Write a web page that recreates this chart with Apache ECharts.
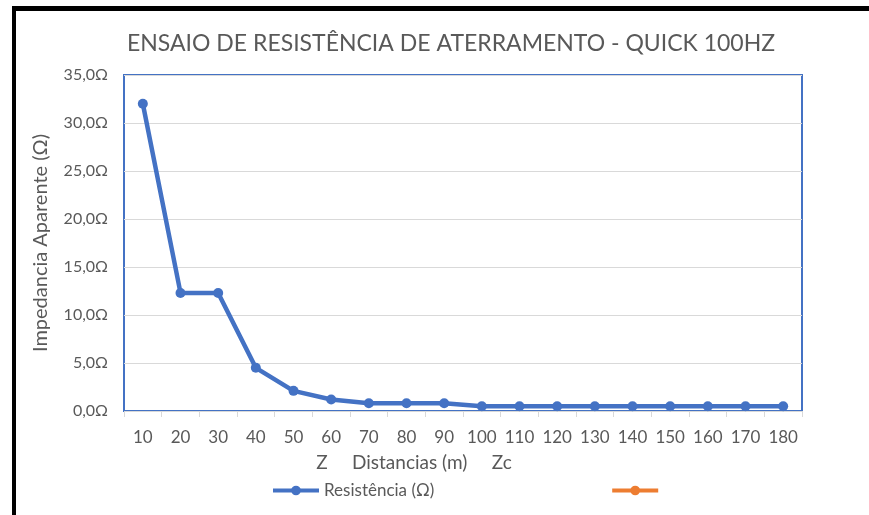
<!DOCTYPE html>
<html>
<head>
<meta charset="utf-8">
<script src="https://cdn.jsdelivr.net/npm/echarts@6/dist/echarts.min.js"></script>
<style>
html,body{margin:0;padding:0;background:#fff;}
#chart{width:869px;height:515px;}
</style>
</head>
<body>
<div id="chart"></div>
<script>
const categories = ['10','20','30','40','50','60','70','80','90','100','110','120','130','140','150','160','170','180'];
const resistencia = [32.0, 12.3, 12.3, 4.5, 2.1, 1.2, 0.8, 0.8, 0.8, 0.5, 0.5, 0.5, 0.5, 0.5, 0.5, 0.5, 0.5, 0.5];
const serie2 = [];
const seriesNames = ['Resistência (Ω)', ' '];
const titleText = 'ENSAIO DE RESISTÊNCIA DE ATERRAMENTO - QUICK 100HZ';
const yAxisName = 'Impedancia Aparente (Ω)';
const xAxisName = 'Z     Distancias (m)     Zc';

const FONT = 'Lato';
const GRAY = '#595959';
const chart = echarts.init(document.getElementById('chart'), null, {renderer:'canvas'});
chart.setOption({
  animation: false,
  backgroundColor: '#fff',
  textStyle: {fontFamily: FONT},
  title: {
    text: titleText, left: 122, top: 27,
    textStyle: {fontFamily: FONT, fontSize: 23, fontWeight: 'normal', color: GRAY}
  },
  graphic: [
    {type:'rect', shape:{x:12, y:6, width:857, height:5}, style:{fill:'#000'}, silent:true},
    {type:'rect', shape:{x:12, y:6, width:4, height:509}, style:{fill:'#000'}, silent:true}
  ],
  legend: {
    top: 477, left: 266,
    itemWidth: 46, itemHeight: 12, itemGap: 176,
    lineStyle: {width: 4},
    textStyle: {fontFamily: FONT, fontSize: 17, color: GRAY},
    data: seriesNames
  },
  grid: {
    left: 124, top: 75, right: 67, bottom: 104,
    show: true, borderColor: '#4472C4', borderWidth: 2, backgroundColor: 'transparent'
  },
  xAxis: {
    type: 'category', data: categories, boundaryGap: true,
    axisLine: {show: false},
    axisTick: {show: true, alignWithLabel: false, length: 6, lineStyle: {color: '#d9d9d9'}},
    axisLabel: {fontFamily: FONT, fontSize: 17, color: GRAY, margin: 18, interval: 0},
    name: xAxisName, nameLocation: 'middle', nameGap: 42,
    nameTextStyle: {fontFamily: FONT, fontSize: 19, color: GRAY, padding: [0, 98, 0, 0]}
  },
  yAxis: {
    type: 'value', min: 0, max: 35, interval: 5,
    axisLine: {show: false}, axisTick: {show: false},
    splitLine: {lineStyle: {color: '#d9d9d9', width: 1}},
    axisLabel: {fontFamily: FONT, fontSize: 16, color: GRAY, margin: 16,
      formatter: v => v.toFixed(1).replace('.', ',') + 'Ω'},
    name: yAxisName, nameLocation: 'middle', nameGap: 73, nameRotate: 90,
    nameTextStyle: {fontFamily: FONT, fontSize: 20, color: GRAY}
  },
  series: [
    {
      name: seriesNames[0], type: 'line', data: resistencia,
      symbol: 'circle', symbolSize: 10,
      lineStyle: {color: '#4472C4', width: 4.5},
      itemStyle: {color: '#4472C4'}
    },
    {
      name: seriesNames[1], type: 'line', data: serie2,
      symbol: 'circle', symbolSize: 10,
      lineStyle: {color: '#ED7D31', width: 4.5},
      itemStyle: {color: '#ED7D31'}
    }
  ]
});
</script>
</body>
</html>
